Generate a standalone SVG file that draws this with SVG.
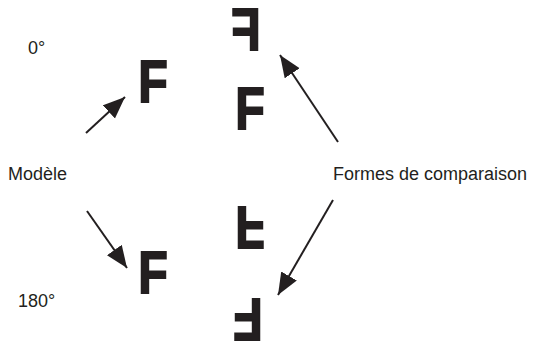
<svg xmlns="http://www.w3.org/2000/svg" width="535" height="346" viewBox="0 0 535 346">
<defs>
<style>
.lbl{font-family:"Liberation Sans",Arial,sans-serif;font-size:18px;fill:#231f20}
.F{font-family:"Liberation Sans",Arial,sans-serif;font-weight:bold;font-size:52px;fill:#231f20;stroke:#231f20;stroke-width:1.6;text-anchor:middle}
.fg{filter:url(#gray)}
.con{stroke:#231f20;stroke-width:2;fill:none;marker-end:url(#ah)}
</style>
<filter id="gray" x="-20%" y="-20%" width="140%" height="140%"><feOffset dx="0" dy="0"/></filter>
<marker id="ah" markerUnits="userSpaceOnUse" markerWidth="24" markerHeight="20" refX="22" refY="9" orient="auto">
<path d="M0,0 L22,9 L0,18 z" fill="#231f20"/>
</marker>
</defs>
<g id="label-0"><text class="lbl" x="28" y="54">0°</text></g>
<g id="label-modele"><text class="lbl" x="8" y="180">Modèle</text></g>
<g id="label-180"><text class="lbl" x="18" y="307">180°</text></g>
<g id="label-formes"><text class="lbl" x="333" y="180">Formes de comparaison</text></g>
<g id="F-model-0" class="fg"><text class="F" transform="translate(153,81) scale(0.93,1.15)" x="0" y="18.5">F</text></g>
<g id="F-model-180" class="fg"><text class="F" transform="translate(153,272) scale(0.93,1.15)" x="0" y="18.5">F</text></g>
<g id="F-comp-mirror" class="fg"><text class="F" transform="translate(246,29) scale(-0.93,1.15)" x="0" y="18.5">F</text></g>
<g id="F-comp-normal" class="fg"><text class="F" transform="translate(250,108) scale(0.93,1.15)" x="0" y="18.5">F</text></g>
<g id="F-comp-vflip" class="fg"><text class="F" transform="translate(250,228) scale(0.93,-1.15)" x="0" y="18.5">F</text></g>
<g id="F-comp-rot180" class="fg"><text class="F" transform="translate(248,320) scale(-0.93,-1.15)" x="0" y="18.5">F</text></g>
<g id="connectors">
<line class="con" x1="86" y1="133" x2="125" y2="97"/>
<line class="con" x1="87" y1="211" x2="127" y2="268"/>
<line class="con" x1="338" y1="142" x2="280" y2="55"/>
<line class="con" x1="333" y1="200" x2="278" y2="295"/>
</g>
</svg>
